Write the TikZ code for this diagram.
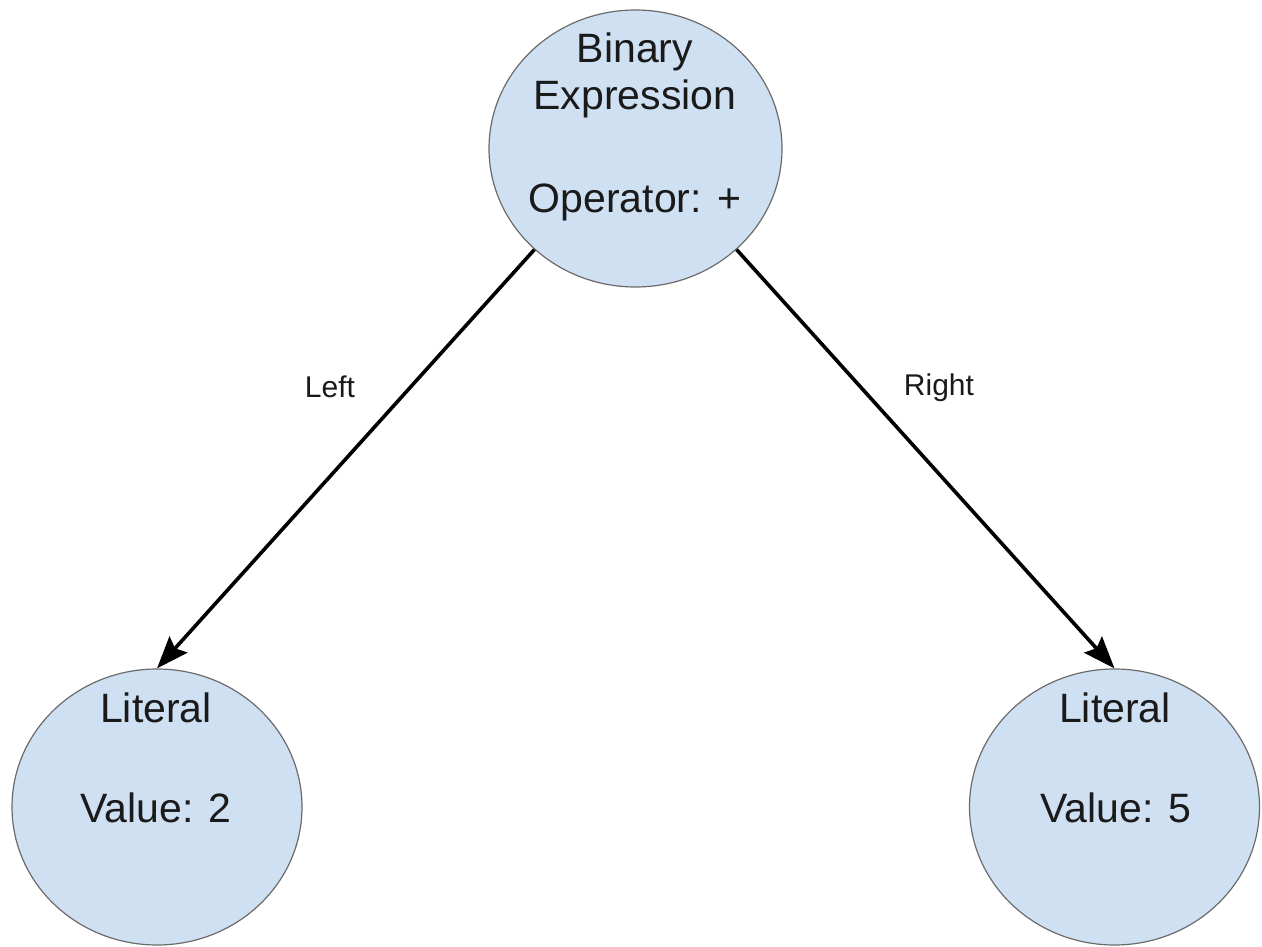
\documentclass[tikz,border=0pt]{standalone}
\usepackage{fontspec}
\setmainfont{Liberation Sans}
\usetikzlibrary{shapes.geometric,arrows.meta}
\definecolor{nodefill}{HTML}{CFE0F2}
\definecolor{nodeline}{HTML}{6B6B6B}
\definecolor{txt}{HTML}{1A1A1A}
\tikzset{
  bubble/.style={ellipse, draw=nodeline, line width=1.2pt, fill=nodefill, inner sep=0pt},
  big/.style={bubble, minimum width=293pt, minimum height=277pt},
  small/.style={bubble, minimum width=290pt, minimum height=276pt},
  ntext/.style={anchor=base, inner sep=0pt, text=txt, font=\fontsize{41}{49}\selectfont},
  etext/.style={anchor=base, inner sep=0pt, text=txt, font=\fontsize{30}{36}\selectfont},
  edge/.style={line width=3.6pt, -{Stealth[length=32pt,width=24pt,inset=5pt]}}
}
\begin{document}
\begin{tikzpicture}[x=1pt,y=-1pt]
\useasboundingbox (0,0) rectangle (1262,947);
\node[big] (bin) at (635.5,148.5) {};
\node[small] (lit2) at (157,807) {};
\node[small] (lit5) at (1114.5,807) {};
\node[ntext] (t1) at (635,63) {Binary};
\node[ntext] (t2) at (635,110) {Expression};
\node[ntext] (t3) at (635,213) {Operator: +};
\node[ntext] (t4) at (156,722) {Literal};
\node[ntext] (t5) at (156,822) {Value: 2};
\node[ntext] (t6) at (1115,722) {Literal};
\node[ntext] (t7) at (1116,822) {Value: 5};
\draw[edge] (bin.225) -- (lit2.north);
\draw[edge] (bin.315) -- (lit5.north);
\node[etext] (lleft) at (330,397) {Left};
\node[etext] (lright) at (939,395) {Right};
\end{tikzpicture}
\end{document}
